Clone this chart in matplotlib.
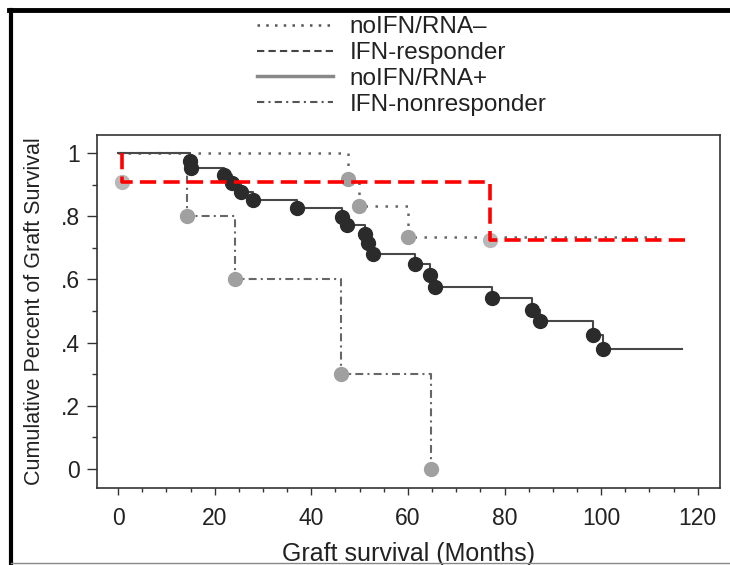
import matplotlib
matplotlib.use("Agg")
import matplotlib.pyplot as plt
from matplotlib.lines import Line2D
from matplotlib.ticker import MultipleLocator

plt.rcParams['font.family'] = ['Liberation Sans', 'DejaVu Sans']

# noIFN/RNA+ (solid)
pos_t = [0.0, 14.9, 15.1, 22.0, 23.5, 25.5, 28.0, 37.0, 46.3, 47.3, 51.1, 51.7, 52.8,
         61.5, 64.6, 65.6, 77.4, 85.7, 87.3, 98.3, 100.3, 116.7]
pos_s = [1.0, 0.976, 0.952, 0.929, 0.905, 0.878, 0.851, 0.826, 0.798, 0.772, 0.745, 0.715, 0.68,
         0.65, 0.614, 0.577, 0.541, 0.503, 0.468, 0.424, 0.38, 0.38]

# noIFN/RNA- (dotted)
neg_t = [0.0, 47.5, 49.9, 60.1, 112.8]
neg_s = [1.0, 0.917, 0.833, 0.733, 0.733]

# IFN-nonresponder (dash-dot)
nonr_t = [0.0, 14.3, 24.2, 46.1, 64.7]
nonr_s = [1.0, 0.8, 0.6, 0.3, 0.0]

# IFN-responder (red dashed)
resp_t = [0.8, 0.8, 77.0, 117.4]
resp_s = [1.0, 0.909, 0.725, 0.725]

labels = ["noIFN/RNA\u2013", "IFN-responder", "noIFN/RNA+", "IFN-nonresponder"]
xticks = [0, 20, 40, 60, 80, 100, 120]
yticks = [0, 0.2, 0.4, 0.6, 0.8, 1.0]
ytick_labels = ["0", ".2", ".4", ".6", ".8", "1"]

fig = plt.figure(figsize=(7.3, 5.65), dpi=100)
ax = fig.add_axes([0.1329, 0.1363, 0.8534, 0.6248])

dark = "#2b2b2b"
light = "#a0a0a0"

# solid curve
ax.step(pos_t, pos_s, where="post", color="#484848", lw=1.5, zorder=3)
ax.plot(pos_t[1:-1], pos_s[1:-1], "o", color=dark, ms=10, mec=dark, zorder=4)

# dotted curve
ax.step(neg_t, neg_s, where="post", color="#666666", lw=1.8, ls=(0, (1, 3)), zorder=2)
ax.plot(neg_t[1:-1], neg_s[1:-1], "o", color=light, ms=10, mec=light, zorder=4)

# dash-dot curve
ax.step(nonr_t, nonr_s, where="post", color="#666666", lw=1.5, ls=(0, (3.8, 2, 1, 2)), zorder=2)
ax.plot(nonr_t[1:], nonr_s[1:], "o", color=light, ms=10, mec=light, zorder=4)

# red dashed curve
ax.plot(resp_t[1:3], resp_s[1:3], "o", color="#b8b8b8", ms=10, mec="#b8b8b8", zorder=4)
ax.step(resp_t, resp_s, where="post", color="#ff0000", lw=2.6, ls=(0, (4.5, 2.0)), zorder=5)

ax.set_xlim(-4.35, 124.6)
ax.set_ylim(-0.06, 1.057)
ax.set_xticks(xticks)
ax.set_yticks(yticks)
ax.set_yticklabels(ytick_labels)
ax.xaxis.set_minor_locator(MultipleLocator(5))
ax.yaxis.set_minor_locator(MultipleLocator(0.1))
ax.tick_params(axis="x", which="major", length=5, width=1, color="#333333", pad=9, labelsize=16.5, labelcolor="#222222")
ax.tick_params(axis="x", which="minor", length=3, width=1, color="#333333")
ax.tick_params(axis="y", which="major", length=7, width=1, color="#333333", pad=5, labelsize=16.5, labelcolor="#222222")
ax.tick_params(axis="y", which="minor", length=3.5, width=1, color="#333333")
for sp in ax.spines.values():
    sp.set_color("#333333")
    sp.set_linewidth(1.2)

ax.set_xlabel("Graft survival (Months)", fontsize=18, color="#222222", labelpad=8)
ax.set_ylabel("Cumulative Percent of Graft Survival", fontsize=15.5, color="#222222", labelpad=12)

handles = [
    Line2D([], [], color="#555555", lw=1.8, ls=(0, (1, 2.5))),
    Line2D([], [], color="#444444", lw=1.5, ls=(0, (3.5, 2))),
    Line2D([], [], color="#888888", lw=2.5),
    Line2D([], [], color="#555555", lw=1.5, ls=(0, (3.5, 2, 1, 2))),
]
fig.legend(handles, labels, loc="upper left", bbox_to_anchor=(245 / 730, 1 - 4 / 565),
           frameon=False, fontsize=17.5, handlelength=3.1, handletextpad=0.7,
           labelspacing=0.16, borderpad=0, labelcolor="#222222")

# outer frame
fig.add_artist(Line2D([10.5 / 730, 10.5 / 730], [0, 1 - 10 / 565], transform=fig.transFigure, color="black", lw=3))
fig.add_artist(Line2D([9 / 730, 1], [1 - 10 / 565, 1 - 10 / 565], transform=fig.transFigure, color="black", lw=3.5))
fig.add_artist(Line2D([10.5 / 730, 1], [2 / 565, 2 / 565], transform=fig.transFigure, color="#888888", lw=1))

fig.savefig("out.png", dpi=100)
